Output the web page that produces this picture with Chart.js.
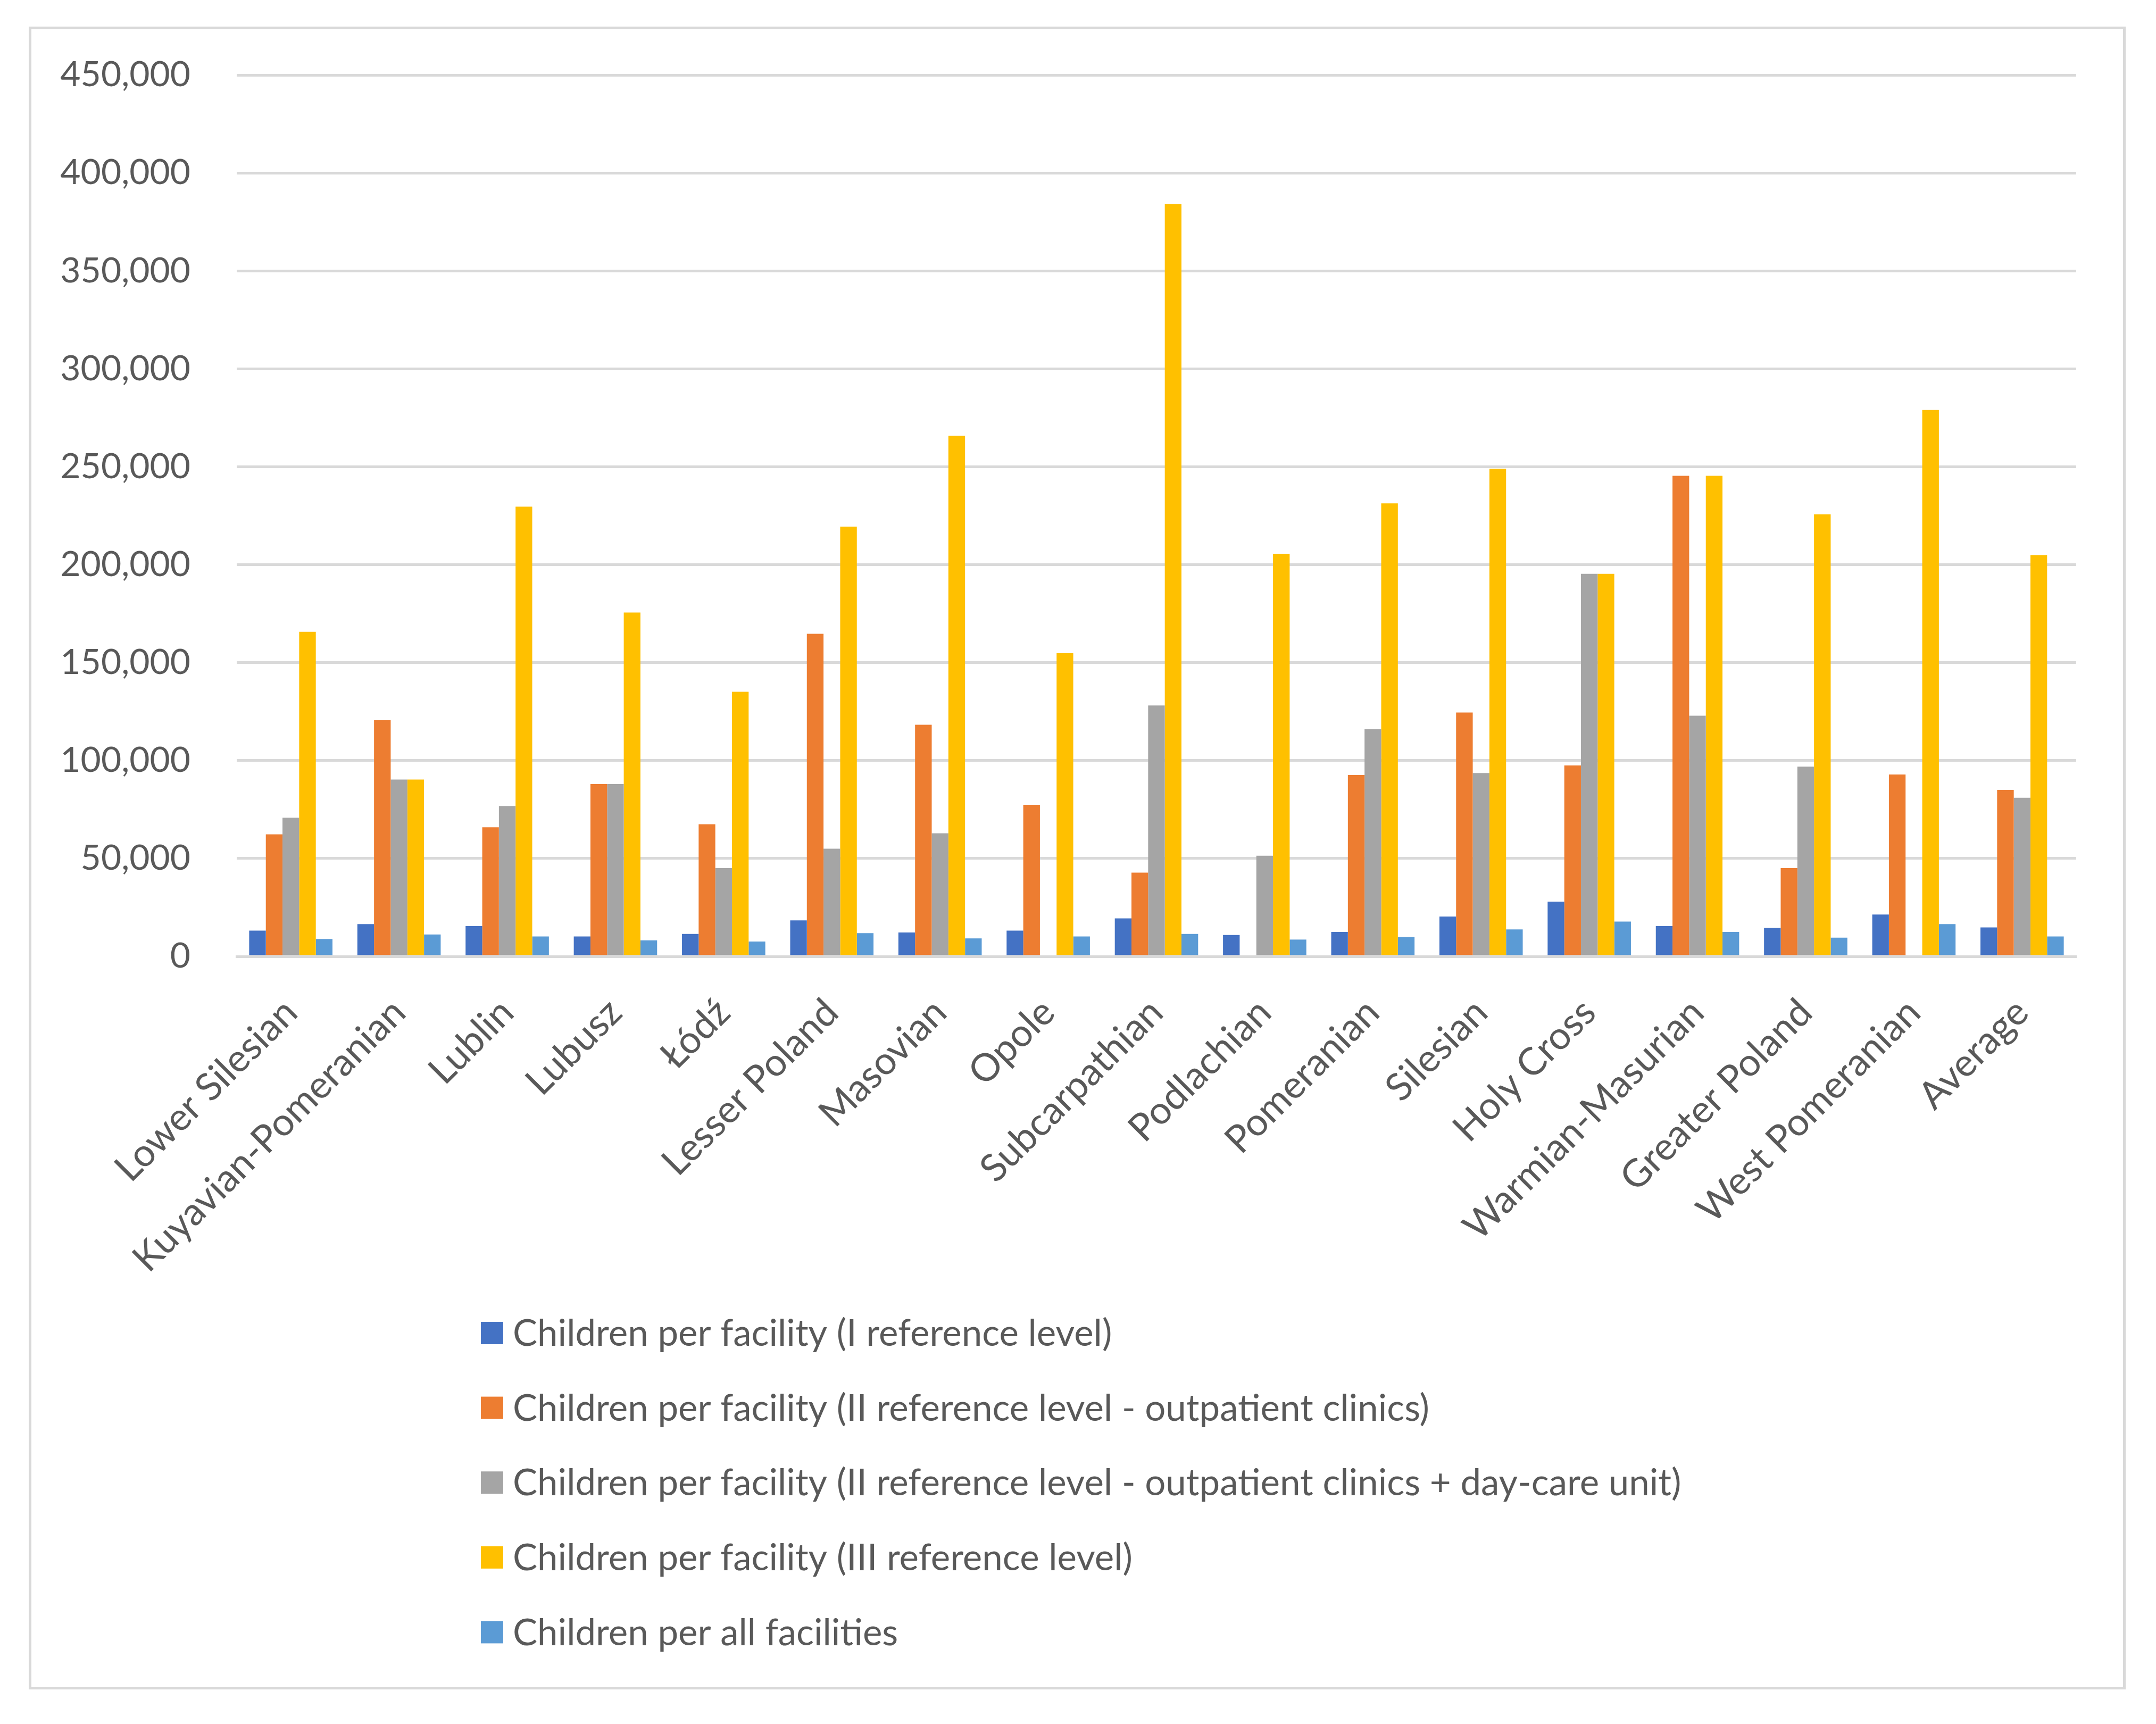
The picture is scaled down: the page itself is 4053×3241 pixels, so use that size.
<!DOCTYPE html>
<html>
<head>
<meta charset="utf-8">
<script src="https://cdn.jsdelivr.net/npm/chart.js@4"></script>
<style>
  html, body { margin: 0; padding: 0; background: #fff; }
  #wrap { position: relative; width: 4053px; height: 3241px; }
  #frame {
    position: absolute; left: 54px; top: 50px; width: 3942px; height: 3126px;
    border: 5px solid #d9d9d9; box-sizing: border-box;
  }
  #chart { position: absolute; left: 0; top: 0; }
</style>
</head>
<body>
<div id="wrap">
  <div id="frame"></div>
  <canvas id="chart" width="4053" height="3241"></canvas>
</div>
<script>
const categories = [
  "Lower Silesian", "Kuyavian-Pomeranian", "Lublin", "Lubusz", "Łódź",
  "Lesser Poland", "Masovian", "Opole", "Subcarpathian", "Podlachian",
  "Pomeranian", "Silesian", "Holy Cross", "Warmian-Masurian",
  "Greater Poland", "West Pomeranian", "Average",
];

const seriesNames = [
  "Children per facility (I reference level)",
  "Children per facility (II reference level - outpatient clinics)",
  "Children per facility (II reference level - outpatient clinics + day-care unit)",
  "Children per facility (III reference level)",
  "Children per all facilities",
];

const level1 = [13200, 16500, 15500, 10200, 11500, 18400, 12200, 13200, 19400, 10900, 12500, 20400, 28000, 15500, 14500, 21400, 14800];
const level2Clinics = [62300, 120600, 65900, 88000, 67500, 164700, 118300, 77400, 42800, null, 92600, 124500, 97500, 245400, 45100, 92900, 85000];
const level2DayCare = [70800, 90300, 76800, 88000, 45100, 55000, 62900, null, 128100, 51400, 116000, 93600, 195300, 122900, 96900, null, 81000];
const level3 = [165700, 90300, 229600, 175600, 135100, 219400, 265800, 154800, 384100, 205600, 231300, 249000, 195300, 245400, 225700, 279000, 204900];
const allFacilities = [8900, 11200, 10200, 8200, 7600, 11900, 9200, 10200, 11500, 8600, 9900, 13800, 17800, 12500, 9600, 16500, 10200];

const yTicks = [0, 50000, 100000, 150000, 200000, 250000, 300000, 350000, 400000, 450000];

const colors = ["#4472C4", "#ED7D31", "#A5A5A5", "#FFC000", "#5B9BD5"];
const textColor = "#595959";
const gridColor = "#d9d9d9";

Chart.defaults.font.family = "Lato, 'Open Sans', sans-serif";

// legend drawn as a vertical list under the axis labels
const listLegend = {
  id: "listLegend",
  afterDraw(chart) {
    const ctx = chart.ctx;
    const left = 904, top = 2506, step = 140.6, box = 42;
    ctx.save();
    ctx.font = "69px Lato, 'Open Sans', sans-serif";
    ctx.textBaseline = "middle";
    ctx.textAlign = "left";
    chart.data.datasets.forEach(function (ds, i) {
      const y = top + i * step;
      ctx.fillStyle = ds.backgroundColor;
      ctx.fillRect(left, y - box / 2, box, box);
      ctx.fillStyle = textColor;
      ctx.fillText(ds.label, left + 60, y + 2);
    });
    ctx.restore();
  },
};

const seriesValues = [level1, level2Clinics, level2DayCare, level3, allFacilities];

const ctx = document.getElementById("chart");

new Chart(ctx, {
  type: "bar",
  data: {
    labels: categories,
    datasets: seriesValues.map(function (vals, i) {
      return {
        label: seriesNames[i],
        data: vals,
        backgroundColor: colors[i],
        borderWidth: 0,
        categoryPercentage: 0.77,
        barPercentage: 1.0,
      };
    }),
  },
  options: {
    responsive: false,
    devicePixelRatio: 1,
    animation: false,
    layout: {
      padding: { top: 141, right: 150, left: 0, bottom: 0 },
    },
    scales: {
      x: {
        grid: { display: false },
        border: { display: true, color: gridColor, width: 5 },
        ticks: {
          color: textColor,
          font: { size: 72 },
          minRotation: 45,
          maxRotation: 45,
          autoSkip: false,
          padding: 55,
        },
        afterFit: function (scale) {
          scale.height = 3241 - 1798;
        },
      },
      y: {
        min: 0,
        max: 450000,
        grid: { color: gridColor, lineWidth: 5, drawTicks: false },
        border: { display: false },
        ticks: {
          color: textColor,
          font: { size: 66 },
          padding: 87,
          callback: function (v) {
            return Number(v).toLocaleString("en-US");
          },
        },
        afterBuildTicks: function (scale) {
          scale.ticks = yTicks.map(function (v) { return { value: v }; });
        },
        afterFit: function (scale) {
          scale.width = 445;
        },
      },
    },
    plugins: {
      legend: { display: false },
      tooltip: { enabled: false },
      title: { display: false },
    },
  },
  plugins: [listLegend],
});
</script>
</body>
</html>
